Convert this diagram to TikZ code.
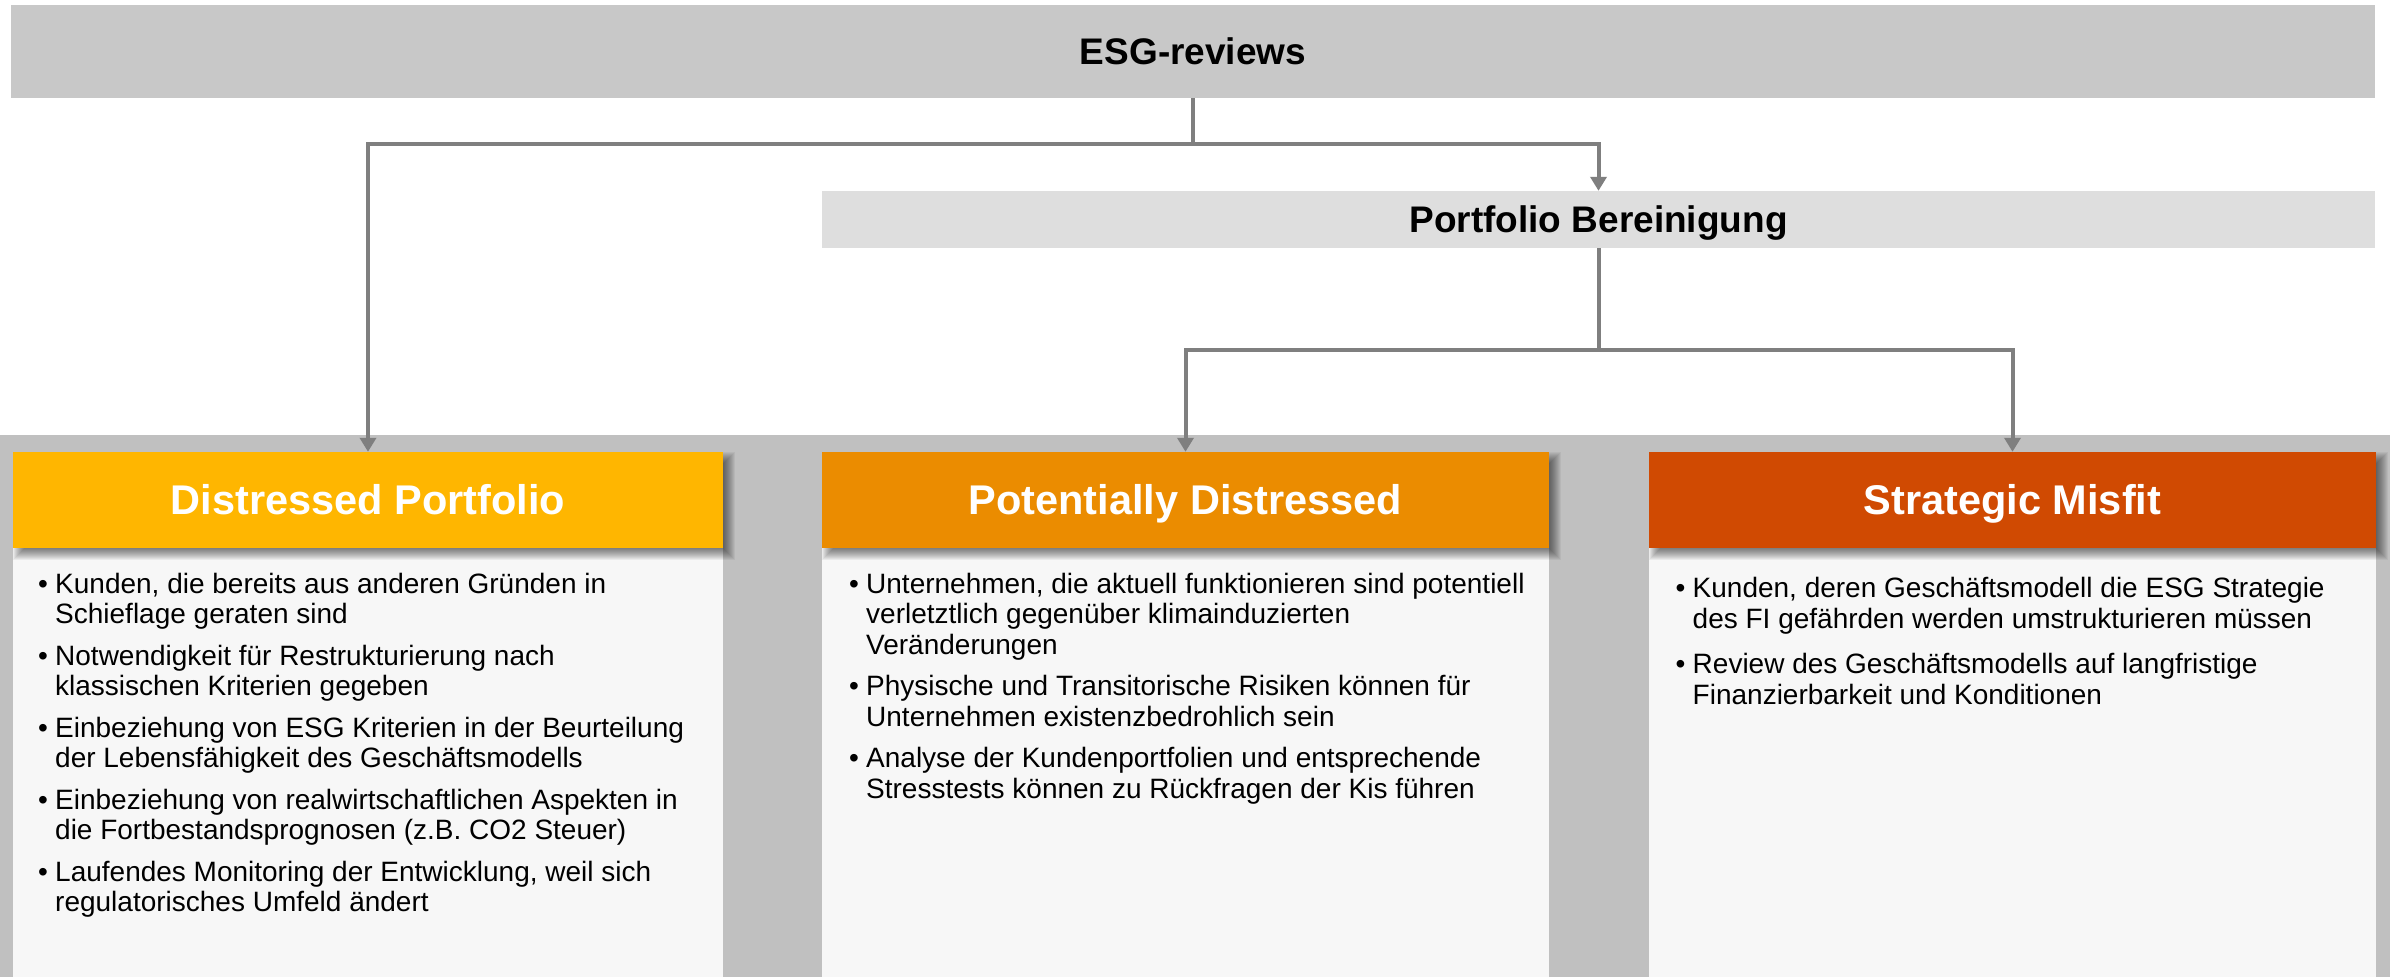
\documentclass[tikz,border=0pt]{standalone}
\usepackage{fontspec}
\setmainfont{Liberation Sans}
\usetikzlibrary{arrows.meta}

\definecolor{barTop}{HTML}{C8C8C8}
\definecolor{barSub}{HTML}{DEDEDE}
\definecolor{band}{HTML}{C0C0C0}
\definecolor{cardBody}{HTML}{F7F7F7}
\definecolor{connGray}{HTML}{7F7F7F}
\definecolor{pwcYellow}{HTML}{FFB600}
\definecolor{pwcOrange}{HTML}{EB8C00}
\definecolor{pwcRust}{HTML}{D04A02}

% bullet with fixed hanging width
\newcommand{\bl}{\makebox[17pt][l]{•}}
% soft drop shadow to the lower right of a rectangle (x1,y1)-(x2,y2)
\newcommand{\softshadow}[4]{%
  \foreach \k in {-5,...,6}{%
    \fill[black,opacity=0.05] ({#1+6-\k},{#2+6-\k}) rectangle ({#3+6+\k},{#4+6+\k});}}

\tikzset{
  titlebar/.style={fill=#1, inner sep=0pt, text height=26.5pt, text depth=0pt,
    font=\bfseries\fontsize{37}{40}\selectfont},
  cardhead/.style={fill=#1, inner sep=0pt, minimum height=96pt, text=white,
    text height=29.7pt, text depth=0pt, font=\bfseries\fontsize{41.5}{44}\selectfont},
  bodytext/.style={anchor=base west, inner sep=0pt, font=\fontsize{28}{30.5}\selectfont},
  conn/.style={draw=connGray, line width=4pt},
  tip/.style={-{Triangle[width=16pt,length=14pt]}},
}

\begin{document}
\begin{tikzpicture}[x=1pt,y=-1pt]
\useasboundingbox (0,0) rectangle (2390,977);
\fill[white] (0,0) rectangle (2390,977);

% grey band behind the three cards
\fill[band] (0,435) rectangle (2390,977);

% card bodies
\fill[cardBody] (13,548) rectangle (723,977);
\fill[cardBody] (822,548) rectangle (1549,977);
\fill[cardBody] (1649,548) rectangle (2376,977);

% header shadows
\softshadow{13}{452}{723}{548}
\softshadow{822}{452}{1549}{548}
\softshadow{1649}{452}{2376}{548}

% top level bars
\node[titlebar=barTop, minimum width=2364pt, minimum height=93pt] (esg) at (1193,51.5) {ESG-reviews};
\node[titlebar=barSub, minimum width=1553pt, minimum height=57pt] (pb) at (1598.5,219.5) {Portfolio Bereinigung};

% card headers
\node[cardhead=pwcYellow, minimum width=710pt] (h1) at (368,500) {Distressed Portfolio};
\node[cardhead=pwcOrange, minimum width=727pt] (h2) at (1185.5,500) {Potentially Distressed};
\node[cardhead=pwcRust, minimum width=727pt] (h3) at (2012.5,500) {Strategic Misfit};

% connectors
\coordinate (j1) at (1193,144);
\coordinate (j2) at (1598.5,350);
\draw[conn] (esg.south) -- (j1);
\draw[conn,tip] (j1) -| (h1.north);
\draw[conn,tip] (j1) -| (pb.north);
\draw[conn] (pb.south) -- (j2);
\draw[conn,tip] (j2) -| (h2.north);
\draw[conn,tip] (j2) -| (h3.north);

% card texts
\node[bodytext] (t1) at (38,593) {\begin{tabular}[t]{@{}l@{}l@{}}
\bl & Kunden, die bereits aus anderen Gründen in\\
    & Schieflage geraten sind\\[11pt]
\bl & Notwendigkeit für Restrukturierung nach\\
    & klassischen Kriterien gegeben\\[11pt]
\bl & Einbeziehung von ESG Kriterien in der Beurteilung\\
    & der Lebensfähigkeit des Geschäftsmodells\\[11pt]
\bl & Einbeziehung von realwirtschaftlichen Aspekten in\\
    & die Fortbestandsprognosen (z.B. CO2 Steuer)\\[11pt]
\bl & Laufendes Monitoring der Entwicklung, weil sich\\
    & regulatorisches Umfeld ändert
\end{tabular}};

\node[bodytext] (t2) at (849,593) {\begin{tabular}[t]{@{}l@{}l@{}}
\bl & Unternehmen, die aktuell funktionieren sind potentiell\\
    & verletztlich gegenüber klimainduzierten\\
    & Veränderungen\\[11pt]
\bl & Physische und Transitorische Risiken können für\\
    & Unternehmen existenzbedrohlich sein\\[11pt]
\bl & Analyse der Kundenportfolien und entsprechende\\
    & Stresstests können zu Rückfragen der Kis führen
\end{tabular}};

\node[bodytext, font=\fontsize{28}{31}\selectfont] (t3) at (1675.5,597) {\begin{tabular}[t]{@{}l@{}l@{}}
\bl & Kunden, deren Geschäftsmodell die ESG Strategie\\
    & des FI gefährden werden umstrukturieren müssen\\[14pt]
\bl & Review des Geschäftsmodells auf langfristige\\
    & Finanzierbarkeit und Konditionen
\end{tabular}};
\end{tikzpicture}
\end{document}
